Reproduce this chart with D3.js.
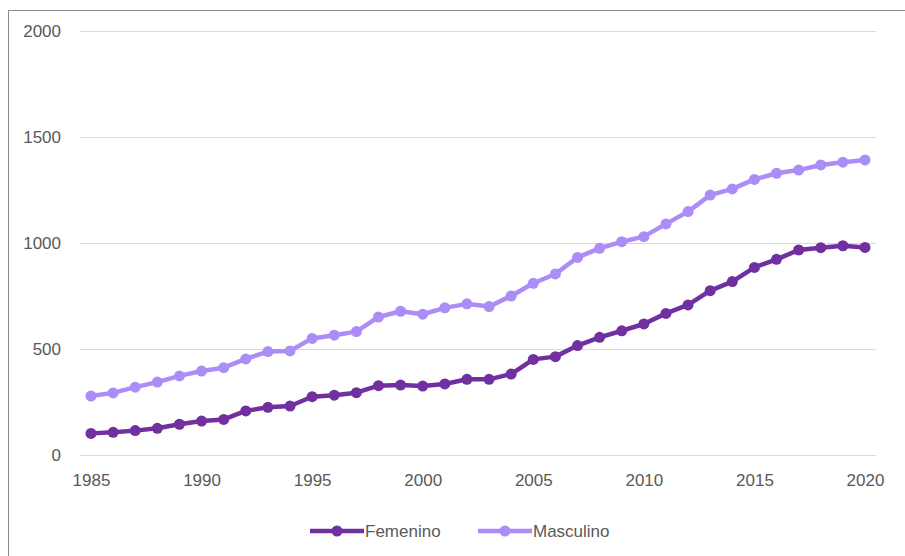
<!DOCTYPE html>
<html><head><meta charset="utf-8">
<script src="https://cdn.jsdelivr.net/npm/d3@7"></script>
<style>body{margin:0;background:#fff}svg{display:block}</style>
</head><body>
<svg id="c" width="905" height="556"></svg>
<script>
const years = d3.range(1985, 2021);
const femenino = [102,107,115,126,145,160,168,208,225,231,275,282,294,327,330,325,335,357,357,382,451,464,516,555,586,618,668,708,775,818,885,923,967,978,987,979];
const masculino = [278,293,320,344,373,396,412,453,488,491,550,565,582,651,678,664,694,713,700,750,810,854,932,975,1006,1030,1090,1148,1226,1255,1300,1329,1344,1368,1381,1392];
const yTicks = [0,500,1000,1500,2000];
const xTicks = [1985,1990,1995,2000,2005,2010,2015,2020];
const seriesNames = ["Femenino","Masculino"];
const colors = ["#7030A0","#AC8CF7"];

const svg = d3.select("#c");
svg.append("rect").attr("x",8.5).attr("y",10.5).attr("width",910).attr("height",560)
  .attr("fill","none").attr("stroke","#8a8a8a").attr("stroke-width",1);

const x = d3.scaleLinear().domain([1985,2020]).range([91,865]);
const y = d3.scaleLinear().domain([0,2000]).range([455,31]);

const font = "'Liberation Sans', Arial, sans-serif";
// gridlines
svg.append("g").selectAll("line").data(yTicks).join("line")
  .attr("x1",80).attr("x2",876).attr("y1",d=>y(d)+0.5).attr("y2",d=>y(d)+0.5)
  .attr("stroke","#d9d9d9").attr("stroke-width",1.2);

const yAxis = svg.append("g").attr("transform","translate(61,0)")
  .call(d3.axisLeft(y).tickValues(yTicks).tickSize(0).tickPadding(0).tickFormat(d3.format("d")));
yAxis.select(".domain").remove();
yAxis.selectAll("text").attr("font-family",font).attr("font-size",17).attr("fill","#595959").attr("dy","0.34em");

const xAxis = svg.append("g").attr("transform","translate(0,474)")
  .call(d3.axisBottom(x).tickValues(xTicks).tickSize(0).tickPadding(0).tickFormat(d3.format("d")));
xAxis.select(".domain").remove();
xAxis.selectAll("text").attr("font-family",font).attr("font-size",17).attr("fill","#595959").attr("dy","0.71em");

const series = [femenino, masculino];
const line = d3.line().x((d,i)=>x(years[i])).y(d=>y(d));
series.forEach((s,k)=>{
  const g = svg.append("g");
  g.append("path").attr("d",line(s)).attr("fill","none").attr("stroke",colors[k]).attr("stroke-width",4.5).attr("stroke-linejoin","round");
  g.selectAll("circle").data(s).join("circle").attr("cx",(d,i)=>x(years[i])).attr("cy",d=>y(d)).attr("r",5.5).attr("fill",colors[k]);
});

// legend
const leg = [{x:310, name:seriesNames[0], c:colors[0]},{x:478, name:seriesNames[1], c:colors[1]}];
leg.forEach(l=>{
  const g = svg.append("g");
  g.append("line").attr("x1",l.x).attr("x2",l.x+54).attr("y1",531).attr("y2",531).attr("stroke",l.c).attr("stroke-width",4.5);
  g.append("circle").attr("cx",l.x+27).attr("cy",531).attr("r",5.5).attr("fill",l.c);
  g.append("text").attr("x",l.x+55).attr("y",531).attr("dy","0.35em").attr("font-family",font).attr("font-size",17).attr("fill","#595959").text(l.name);
});
</script>
</body></html>
